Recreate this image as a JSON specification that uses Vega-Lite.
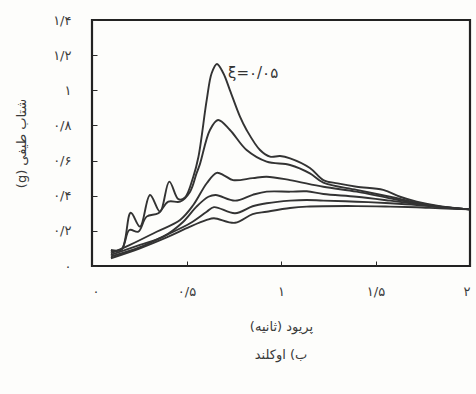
{
  "$schema": "https://vega.github.io/schema/vega-lite/v6.json",
  "width": 378,
  "height": 246,
  "autosize": {"type": "none"},
  "padding": {"left": 92, "top": 20, "right": 6, "bottom": 128},
  "background": "#fdfdfb",
  "config": {
    "view": {"stroke": "#222222", "strokeWidth": 2.2},
    "font": "DejaVu Sans",
    "axis": {
      "grid": false,
      "domain": false,
      "tickColor": "#2a2a2a",
      "tickWidth": 1,
      "tickSize": -5,
      "labelFont": "DejaVu Sans",
      "labelColor": "#3a3a3a",
      "labelFontSize": 13,
      "titleFont": "DejaVu Sans",
      "titleColor": "#3a3a3a",
      "titleFontSize": 13,
      "titleFontWeight": "normal"
    }
  },
  "title": {
    "text": "\u202bب) اوکلند\u202c",
    "orient": "bottom",
    "anchor": "middle",
    "font": "DejaVu Sans",
    "fontSize": 13,
    "fontWeight": "normal",
    "color": "#3a3a3a",
    "offset": 16
  },
  "encoding": {
    "x": {
      "field": "x",
      "type": "quantitative",
      "scale": {"domain": [0, 2], "nice": false, "zero": false},
      "axis": {
        "values": [0, 0.5, 1, 1.5, 2],
        "labelExpr": "datum.value == 0 ? '۰' : datum.value == 0.5 ? '۰/۵' : datum.value == 1 ? '۱' : datum.value == 1.5 ? '۱/۵' : '۲'",
        "labelPadding": 24,
        "title": "\u202bپریود (ثانیه)\u202c",
        "titlePadding": 22
      }
    },
    "y": {
      "field": "y",
      "type": "quantitative",
      "scale": {"domain": [0, 1.4], "nice": false, "zero": false},
      "axis": {
        "values": [0, 0.2, 0.4, 0.6, 0.8, 1, 1.2, 1.4],
        "labelExpr": "datum.value == 0 ? '۰' : datum.value == 1 ? '۱' : (datum.value < 1 ? '۰/' : '۱/') + ['۰','۱','۲','۳','۴','۵','۶','۷','۸','۹'][round(datum.value * 10) % 10]",
        "labelPadding": 26,
        "title": "\u202bشتاب طیفی (g)\u202c",
        "titlePadding": 24
      }
    }
  },
  "layer": [
    {
      "data": {
        "values": [
          {"s": "1", "x": 0.1, "y": 0.091}, {"s": "1", "x": 0.157, "y": 0.095}, {"s": "1", "x": 0.205, "y": 0.303}, {"s": "1", "x": 0.254, "y": 0.224}, {"s": "1", "x": 0.307, "y": 0.404}, {"s": "1", "x": 0.36, "y": 0.309}, {"s": "1", "x": 0.409, "y": 0.48}, {"s": "1", "x": 0.457, "y": 0.38}, {"s": "1", "x": 0.492, "y": 0.39}, {"s": "1", "x": 0.536, "y": 0.508}, {"s": "1", "x": 0.563, "y": 0.62}, {"s": "1", "x": 0.607, "y": 0.945}, {"s": "1", "x": 0.633, "y": 1.097}, {"s": "1", "x": 0.661, "y": 1.15}, {"s": "1", "x": 0.695, "y": 1.097}, {"s": "1", "x": 0.73, "y": 1.0}, {"s": "1", "x": 0.783, "y": 0.85}, {"s": "1", "x": 0.818, "y": 0.774}, {"s": "1", "x": 0.889, "y": 0.66}, {"s": "1", "x": 0.942, "y": 0.622}, {"s": "1", "x": 0.995, "y": 0.626}, {"s": "1", "x": 1.048, "y": 0.613}, {"s": "1", "x": 1.153, "y": 0.558}, {"s": "1", "x": 1.224, "y": 0.489}, {"s": "1", "x": 1.3, "y": 0.47}, {"s": "1", "x": 1.4, "y": 0.451}, {"s": "1", "x": 1.541, "y": 0.433}, {"s": "1", "x": 1.63, "y": 0.394}, {"s": "1", "x": 1.718, "y": 0.366}, {"s": "1", "x": 1.841, "y": 0.341}, {"s": "1", "x": 2.0, "y": 0.322},
          {"s": "2", "x": 0.1, "y": 0.085}, {"s": "2", "x": 0.157, "y": 0.095}, {"s": "2", "x": 0.198, "y": 0.205}, {"s": "2", "x": 0.245, "y": 0.195}, {"s": "2", "x": 0.289, "y": 0.281}, {"s": "2", "x": 0.351, "y": 0.3}, {"s": "2", "x": 0.404, "y": 0.366}, {"s": "2", "x": 0.466, "y": 0.366}, {"s": "2", "x": 0.519, "y": 0.423}, {"s": "2", "x": 0.553, "y": 0.527}, {"s": "2", "x": 0.571, "y": 0.58}, {"s": "2", "x": 0.624, "y": 0.774}, {"s": "2", "x": 0.667, "y": 0.831}, {"s": "2", "x": 0.73, "y": 0.774}, {"s": "2", "x": 0.818, "y": 0.66}, {"s": "2", "x": 0.924, "y": 0.594}, {"s": "2", "x": 1.048, "y": 0.575}, {"s": "2", "x": 1.153, "y": 0.527}, {"s": "2", "x": 1.224, "y": 0.474}, {"s": "2", "x": 1.4, "y": 0.433}, {"s": "2", "x": 1.577, "y": 0.394}, {"s": "2", "x": 1.718, "y": 0.36}, {"s": "2", "x": 1.841, "y": 0.338}, {"s": "2", "x": 2.0, "y": 0.322},
          {"s": "3", "x": 0.1, "y": 0.072}, {"s": "3", "x": 0.201, "y": 0.12}, {"s": "3", "x": 0.342, "y": 0.195}, {"s": "3", "x": 0.466, "y": 0.262}, {"s": "3", "x": 0.536, "y": 0.347}, {"s": "3", "x": 0.607, "y": 0.471}, {"s": "3", "x": 0.66, "y": 0.53}, {"s": "3", "x": 0.7, "y": 0.515}, {"s": "3", "x": 0.746, "y": 0.489}, {"s": "3", "x": 0.85, "y": 0.5}, {"s": "3", "x": 0.924, "y": 0.508}, {"s": "3", "x": 1.048, "y": 0.489}, {"s": "3", "x": 1.224, "y": 0.451}, {"s": "3", "x": 1.4, "y": 0.423}, {"s": "3", "x": 1.577, "y": 0.385}, {"s": "3", "x": 1.718, "y": 0.357}, {"s": "3", "x": 1.841, "y": 0.338}, {"s": "3", "x": 2.0, "y": 0.322},
          {"s": "4", "x": 0.1, "y": 0.063}, {"s": "4", "x": 0.254, "y": 0.12}, {"s": "4", "x": 0.377, "y": 0.167}, {"s": "4", "x": 0.483, "y": 0.252}, {"s": "4", "x": 0.553, "y": 0.338}, {"s": "4", "x": 0.616, "y": 0.394}, {"s": "4", "x": 0.655, "y": 0.404}, {"s": "4", "x": 0.757, "y": 0.372}, {"s": "4", "x": 0.85, "y": 0.405}, {"s": "4", "x": 0.924, "y": 0.423}, {"s": "4", "x": 1.048, "y": 0.423}, {"s": "4", "x": 1.136, "y": 0.425}, {"s": "4", "x": 1.224, "y": 0.41}, {"s": "4", "x": 1.4, "y": 0.394}, {"s": "4", "x": 1.577, "y": 0.372}, {"s": "4", "x": 1.718, "y": 0.353}, {"s": "4", "x": 1.841, "y": 0.336}, {"s": "4", "x": 2.0, "y": 0.322},
          {"s": "5", "x": 0.1, "y": 0.054}, {"s": "5", "x": 0.254, "y": 0.107}, {"s": "5", "x": 0.395, "y": 0.177}, {"s": "5", "x": 0.519, "y": 0.243}, {"s": "5", "x": 0.607, "y": 0.309}, {"s": "5", "x": 0.645, "y": 0.335}, {"s": "5", "x": 0.757, "y": 0.3}, {"s": "5", "x": 0.85, "y": 0.34}, {"s": "5", "x": 0.924, "y": 0.357}, {"s": "5", "x": 1.048, "y": 0.372}, {"s": "5", "x": 1.136, "y": 0.376}, {"s": "5", "x": 1.224, "y": 0.372}, {"s": "5", "x": 1.4, "y": 0.366}, {"s": "5", "x": 1.577, "y": 0.357}, {"s": "5", "x": 1.718, "y": 0.347}, {"s": "5", "x": 1.841, "y": 0.334}, {"s": "5", "x": 2.0, "y": 0.322},
          {"s": "6", "x": 0.1, "y": 0.044}, {"s": "6", "x": 0.254, "y": 0.101}, {"s": "6", "x": 0.395, "y": 0.163}, {"s": "6", "x": 0.519, "y": 0.224}, {"s": "6", "x": 0.607, "y": 0.262}, {"s": "6", "x": 0.645, "y": 0.272}, {"s": "6", "x": 0.757, "y": 0.246}, {"s": "6", "x": 0.85, "y": 0.295}, {"s": "6", "x": 0.924, "y": 0.309}, {"s": "6", "x": 1.048, "y": 0.33}, {"s": "6", "x": 1.136, "y": 0.338}, {"s": "6", "x": 1.4, "y": 0.341}, {"s": "6", "x": 1.577, "y": 0.338}, {"s": "6", "x": 1.718, "y": 0.334}, {"s": "6", "x": 1.841, "y": 0.328}, {"s": "6", "x": 2.0, "y": 0.322}
        ]
      },
      "mark": {"type": "line", "interpolate": "catmull-rom", "color": "#333333", "strokeWidth": 1.9, "clip": true},
      "encoding": {"detail": {"field": "s", "type": "nominal"}}
    },
    {
      "data": {"values": [{"x": 0.72, "y": 1.1, "label": "ξ=۰/۰۵"}]},
      "mark": {"type": "text", "align": "left", "baseline": "middle", "fontSize": 15, "font": "DejaVu Sans", "color": "#333333"},
      "encoding": {"text": {"field": "label", "type": "nominal"}}
    }
  ]
}
